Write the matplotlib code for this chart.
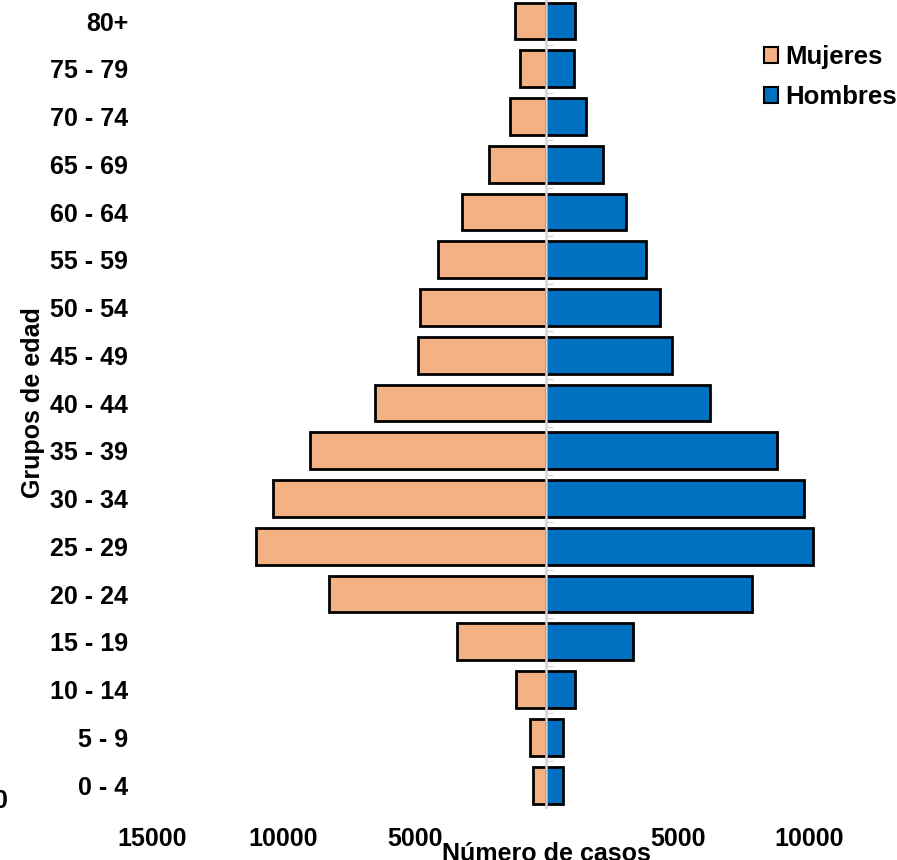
import numpy as np
import matplotlib.pyplot as plt

plt.rcParams['font.family'] = ['Liberation Sans', 'DejaVu Sans']
plt.rcParams['font.weight'] = 'bold'

grupos = ['0 - 4', '5 - 9', '10 - 14', '15 - 19', '20 - 24', '25 - 29', '30 - 34',
          '35 - 39', '40 - 44', '45 - 49', '50 - 54', '55 - 59', '60 - 64',
          '65 - 69', '70 - 74', '75 - 79', '80+']
mujeres = [510, 625, 1175, 3410, 8255, 11045, 10400, 9000, 6525, 4885, 4795,
           4140, 3195, 2205, 1405, 990, 1215]
hombres = [610, 635, 1100, 3290, 7810, 10135, 9785, 8750, 6220, 4755, 4330,
           3765, 3005, 2165, 1485, 1030, 1070]
ticks = [-15000, -10000, -5000, 5000, 10000]
tick_labels = ['15000', '10000', '5000', '5000', '10000']

W, H = 897, 860
fig = plt.figure(figsize=(W / 100, H / 100), dpi=100)
ax = fig.add_axes([143.5 / W, 51 / H, (W - 143.5) / W, 809 / H])

y = np.arange(len(grupos))
ax.barh(y, -np.array(mujeres), height=0.77, color='#F4B183', edgecolor='black',
        linewidth=2, label='Mujeres')
ax.barh(y, hombres, height=0.77, color='#0070C0', edgecolor='black',
        linewidth=2, label='Hombres')

# linea central gris con marcas pequeñas
ax.axvline(0, color='#d4d4d4', linewidth=1.8, zorder=3)
ax.hlines(y[:-1] + 0.5, 0, 250, color='#d4d4d4', linewidth=0.8, zorder=3)

ax.set_xlim(-15323, 13327)
ax.set_ylim(-0.5, 16.44)
ax.set_yticks(y)
ax.set_yticklabels(grupos)
ax.set_xticks(ticks)
ax.set_xticklabels(tick_labels)
ax.tick_params(axis='both', length=0, labelsize=18)
ax.tick_params(axis='x', pad=13)
ax.tick_params(axis='y', pad=11)
for s in ax.spines.values():
    s.set_visible(False)

ax.set_xlabel('Número de casos', fontsize=18, fontweight='bold')
ax.xaxis.set_label_coords(0.535, -0.041)
ax.set_ylabel('Grupos de edad', fontsize=18, fontweight='bold')
ax.yaxis.set_label_coords(-0.131, 0.503)

leg = ax.legend(loc='upper right', bbox_to_anchor=(1.0, 1 - 45 / H),
                bbox_transform=fig.transFigure, frameon=False, fontsize=18.5,
                handlelength=0.55, handleheight=0.55, handletextpad=0.3,
                labelspacing=0.62, borderaxespad=0, borderpad=0)
for h in leg.legend_handles:
    h.set_linewidth(1.5)

fig.text(8 / W, 1 - 801 / H, '0', ha='right', va='center', fontsize=18,
         fontweight='bold')

fig.savefig('out.png', dpi=100)
